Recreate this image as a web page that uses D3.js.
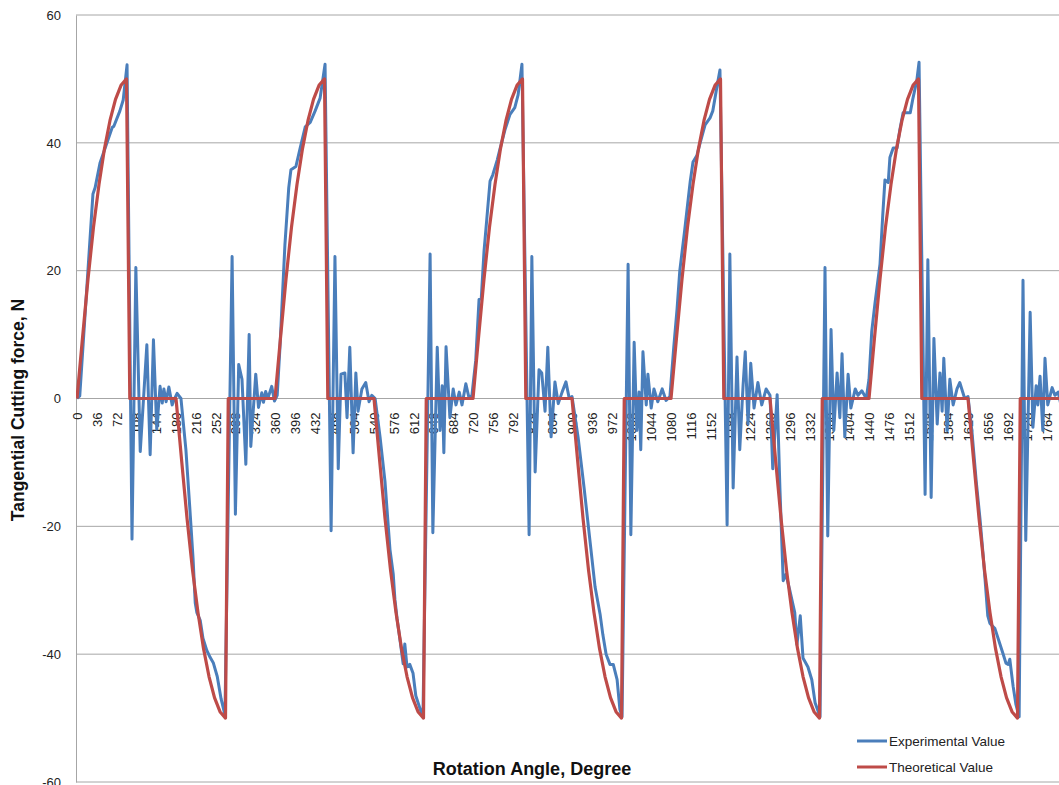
<!DOCTYPE html>
<html>
<head>
<meta charset="utf-8">
<script src="https://cdn.jsdelivr.net/npm/d3@7"></script>
<style>
  html, body { margin: 0; padding: 0; background: #fff; }
  svg { display: block; font-family: "Liberation Sans", Arial, sans-serif; }
</style>
</head>
<body>
<svg id="chart" width="1059" height="785"></svg>
<script>
// ---------------- data ----------------
const xTickLabels = [0,36,72,108,144,180,216,252,288,324,360,396,432,468,504,540,576,612,648,684,720,756,792,828,864,900,936,972,1008,1044,1080,1116,1152,1188,1224,1260,1296,1332,1368,1404,1440,1476,1512,1548,1584,1620,1656,1692,1728,1764];
const yTickValues = [-60,-40,-20,0,20,40,60];

const expAngle = [
  0,5,29,33,42,64,67,78,84,91,100,107,115,127,133,139,145,151,155,158,162,167,173,176,182,189,198,205,211,215,218,224,229,236,242,248,255,262,269,282,288,294,300,307,313,316,325,330,336,339,343,347,354,359,364,
  369,378,385,389,398,405,415,424,433,442,451,462,469,475,480,487,491,496,502,507,511,518,525,531,536,542,551,560,569,575,578,582,587,593,596,600,605,611,616,624,629,642,647,655,660,664,667,671,678,684,689,695,700,707,713,718,
  725,731,735,740,745,751,756,764,769,778,787,796,802,809,822,827,833,840,845,851,856,862,869,875,882,889,895,900,911,922,933,942,951,956,962,969,975,982,987,991,1002,1007,1013,1018,1022,1025,1029,1035,1038,1044,1049,1056,1064,1071,1078,
  1085,1091,1096,1105,1111,1115,1120,1127,1133,1142,1151,1156,1164,1169,1182,1187,1193,1200,1205,1211,1215,1220,1225,1231,1238,1245,1253,1260,1265,1273,1278,1284,1289,1296,1305,1309,1315,1320,1329,1336,1342,1351,1360,1365,1371,1376,1382,1387,1391,1396,1402,1407,1415,1420,1427,1435,
  1440,1445,1451,1460,1465,1469,1475,1478,1484,1491,1496,1502,1515,1520,1527,1531,1542,1547,1553,1558,1564,1569,1573,1576,1582,1587,1593,1600,1605,1614,1620,1627,1635,1642,1647,1651,1656,1660,1669,1678,1684,1689,1693,1696,1702,1707,1713,1720,1725,1733,1738,1744,1747,1751,1756,1760,1765,1773,1778,1784,1789,1796
];
const expValue = [
  0,0.4,32,33,36.9,42.4,42.6,45,46.7,52.2,-22,20.5,-8.3,8.4,-8.8,9.2,-4.8,1.9,-0.7,1.5,-0.5,1.8,-1,-0.3,0.8,0,-8,-17,-25,-32,-33.5,-34.7,-37.5,-39.4,-40.5,-41.4,-43.5,-47,-49.5,22.2,-18.1,5.3,3,-10.3,10,-7.5,3.8,-1.4,0.9,-0.6,1.1,0,1.9,-0.4,0.5,
  8,24,33,35.8,36.3,38.9,42.5,43.2,45,47,52.3,-20.7,22.2,-11,3.8,4,-3,8,-8.5,4,-2,1.5,2.5,-0.5,0.5,0,-6,-13,-23.6,-27.5,-31.4,-34.5,-37.6,-41.5,-38.4,-42,-41.6,-43,-46.5,-48.6,-49.8,22.6,-21,8,-5,2,-8.5,8.1,-3,1.5,-1,1,-1,2.3,0,0.5,
  6,15.5,15.6,23,28,34,35,37.3,39,42,44.4,45.5,47.5,52.3,-21.3,22.2,-11.5,4.5,4,-2,8,-6,2.6,-0.8,1,2.6,0,0.3,-6,-14,-22.5,-29.5,-33.7,-36.9,-40,-41.6,-41.6,-44,-48.6,-49.8,21,-21.3,8.8,-5,1,-8,7.3,-1,3.8,-1.5,1.5,-0.5,1.5,-0.3,0.3,
  8,14,20,26.4,31,34,37,38,40,42.8,43.9,45,49,51.4,-19.8,22.6,-14,6.5,-8,2,7.3,-4,5.5,-1.5,2.5,-1,1.5,0.5,-11,0.6,-14,-28.5,-27.5,-30,-33.5,-38.5,-34,-40.6,-42,-44,-47.6,-49.8,20.5,-21.5,10.8,-5,4,-3,7,-6,3.8,-1.5,1.5,0.5,1.2,0,
  3,10.5,15,21,28.7,34.2,33.8,37.7,39.2,39.2,42,44.7,44.7,47,49.8,52.6,-15,21.7,-15.5,9.4,-4,4,-2,6.3,-5,3,-1,1.5,2.5,0,0.3,-5,-13,-19,-24,-28.3,-34,-35.2,-36,-38.4,-40,-41.4,-41.6,-40.8,-45,-47.8,-49.8,18.5,-22.2,13.5,-4.5,2,-1,3.5,-5,6.3,-1,1.7,0.5,1,-1,0
];

const theoAngle = [
  0,10,20,30,40,50,60,70,80,90,96,180,190,200,210,220,230,240,250,260,270,275,360,
  370,380,390,400,410,420,430,440,450,456,540,550,560,570,580,590,600,610,620,630,635,720,
  730,740,750,760,770,780,790,800,810,816,900,910,920,930,940,950,960,970,980,990,995,1080,
  1090,1100,1110,1120,1130,1140,1150,1160,1170,1176,1260,1270,1280,1290,1300,1310,1320,1330,1340,1350,1355,1440,
  1450,1460,1470,1480,1490,1500,1510,1520,1530,1536,1620,1630,1640,1650,1660,1670,1680,1690,1700,1710,1715,1800
];
const theoValue = [
  0,9.5,18.7,26.8,33.5,39.1,43.5,46.8,49,50,0,0,-9.5,-18.7,-26.8,-33.5,-39.1,-43.5,-46.8,-49,-50,0,0,
  9.5,18.7,26.8,33.5,39.1,43.5,46.8,49,50,0,0,-9.5,-18.7,-26.8,-33.5,-39.1,-43.5,-46.8,-49,-50,0,0,
  9.5,18.7,26.8,33.5,39.1,43.5,46.8,49,50,0,0,-9.5,-18.7,-26.8,-33.5,-39.1,-43.5,-46.8,-49,-50,0,0,
  9.5,18.7,26.8,33.5,39.1,43.5,46.8,49,50,0,0,-9.5,-18.7,-26.8,-33.5,-39.1,-43.5,-46.8,-49,-50,0,0,
  9.5,18.7,26.8,33.5,39.1,43.5,46.8,49,50,0,0,-9.5,-18.7,-26.8,-33.5,-39.1,-43.5,-46.8,-49,-50,0,0
];

const seriesNames = ["Experimental Value", "Theoretical Value"];
const seriesColors = ["#4a7ebb", "#be4b48"];

// ---------------- layout ----------------
const svg = d3.select("#chart");
const plotLeft = 76, plotRight = 1059, plotTop = 15, plotBottom = 782;

const x = d3.scaleLinear().domain([0, 1800]).range([77, 1067]);
const y = d3.scaleLinear().domain([-60, 60]).range([plotBottom, plotTop]);

// gridlines
svg.append("g").selectAll("line").data(yTickValues).join("line")
  .attr("x1", plotLeft).attr("x2", plotRight)
  .attr("y1", d => y(d)).attr("y2", d => y(d))
  .attr("stroke", "#a6a6a6").attr("stroke-width", 1);

// y axis
const yAxis = svg.append("g").attr("transform", `translate(${plotLeft},0)`)
  .call(d3.axisLeft(y).tickValues(yTickValues).tickSize(0).tickPadding(15).tickFormat(d => String(d)));
yAxis.select(".domain").attr("stroke", "#a6a6a6");
yAxis.selectAll("text").attr("font-size", 13).attr("fill", "#222")
  .attr("font-family", "Liberation Sans, Arial, sans-serif");

// x axis at y = 0
const xAxis = svg.append("g").attr("transform", `translate(0,${y(0)})`)
  .call(d3.axisBottom(x).tickValues(xTickLabels).tickSize(0).tickFormat(d => String(d)));
xAxis.select(".domain").remove();
xAxis.selectAll("text")
  .attr("font-size", 13).attr("fill", "#222")
  .attr("font-family", "Liberation Sans, Arial, sans-serif")
  .attr("transform", "rotate(-90)")
  .attr("x", -14).attr("y", 0).attr("dy", "0.35em")
  .style("text-anchor", "end");

// lines
svg.append("clipPath").attr("id", "plotclip").append("rect")
  .attr("x", plotLeft).attr("y", 0).attr("width", plotRight - plotLeft).attr("height", 785);

const line = d3.line().x(d => x(d[0])).y(d => y(d[1]));
const expData = expAngle.map((a, i) => [a, expValue[i]]);
const theoData = theoAngle.map((a, i) => [a, theoValue[i]]);

const plot = svg.append("g").attr("clip-path", "url(#plotclip)");
plot.append("path").datum(expData).attr("d", line)
  .attr("fill", "none").attr("stroke", seriesColors[0]).attr("stroke-width", 3)
  .attr("stroke-linejoin", "round");
plot.append("path").datum(theoData).attr("d", line)
  .attr("fill", "none").attr("stroke", seriesColors[1]).attr("stroke-width", 3.2)
  .attr("stroke-linejoin", "round");

// axis titles
svg.append("text").attr("x", 532).attr("y", 775)
  .attr("text-anchor", "middle").attr("font-weight", "bold").attr("font-size", 18)
  .attr("fill", "#111").text("Rotation Angle, Degree");
svg.append("text").attr("transform", "translate(24,410) rotate(-90)")
  .attr("text-anchor", "middle").attr("font-weight", "bold").attr("font-size", 17.5)
  .attr("fill", "#111").text("Tangential Cutting force, N");

// legend
const legend = svg.append("g");
seriesNames.forEach((name, i) => {
  const ly = 741 + i * 26;
  legend.append("line").attr("x1", 857).attr("x2", 887).attr("y1", ly).attr("y2", ly)
    .attr("stroke", seriesColors[i]).attr("stroke-width", 3);
  legend.append("text").attr("x", 889).attr("y", ly).attr("dy", "0.35em")
    .attr("font-size", 13.5).attr("fill", "#222").text(name);
});
</script>
</body>
</html>
